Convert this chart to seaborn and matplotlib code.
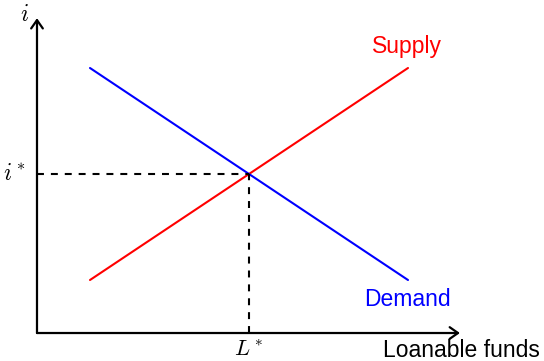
import matplotlib
matplotlib.use("Agg")
import matplotlib.pyplot as plt
import seaborn as sns
import pandas as pd

# Loanable funds market: straight-line supply and demand
supply_x = [1, 7]
supply_y = [1, 5]
demand_x = [1, 7]
demand_y = [5, 1]
eq_x, eq_y = 4, 3          # equilibrium L*, i*
x_end, y_end = 7.98, 5.94  # axis arrow tips

sns.set_theme(style="white")
plt.rcParams['font.family'] = ['Liberation Sans', 'DejaVu Sans']
plt.rcParams['mathtext.fontset'] = 'cm'
plt.rcParams['lines.scale_dashes'] = False
plt.rcParams['text.color'] = 'black'

fig = plt.figure(figsize=(5.44, 3.61), dpi=100)
ax = fig.add_axes([0, 0, 1, 1])
ax.set_xlim(-0.698, 9.566)
ax.set_ylim(-0.528, 6.283)
ax.set_axis_off()

supply = pd.DataFrame({'x': supply_x, 'y': supply_y})
demand = pd.DataFrame({'x': demand_x, 'y': demand_y})
sns.lineplot(data=supply, x='x', y='y', color='#ff0000', lw=1.5, ax=ax)
sns.lineplot(data=demand, x='x', y='y', color='#0000ff', lw=1.5, ax=ax)

# axes with arrow heads
arrow = dict(arrowstyle='->,head_length=0.5,head_width=0.35', color='black', lw=1.6,
             shrinkA=0, shrinkB=0)
ax.annotate('', xy=(x_end, 0), xytext=(0, 0), arrowprops=arrow)
ax.annotate('', xy=(0, y_end), xytext=(0, 0), arrowprops=arrow)

# dashed guides to the equilibrium
ax.plot([0, eq_x], [eq_y, eq_y], color='black', lw=1.5, dashes=(5, 5))
ax.plot([eq_x, eq_x], [0, eq_y], color='black', lw=1.5, dashes=(5, 5))

ax.text(-0.15, 6.0, r'$i$', fontsize=17, ha='right', va='center')
ax.text(-0.2, eq_y, r'$i^*$', fontsize=17, ha='right', va='center')
ax.text(eq_x, -0.44, r'$L^*$', fontsize=16, ha='center', va='baseline')
ax.text(9.49, -0.45, 'Loanable funds', fontsize=16.5, ha='right', va='baseline')
ax.text(6.98, 5.28, 'Supply', fontsize=16.5, color='#ff0000', ha='center', va='baseline')
ax.text(6.98, 0.51, 'Demand', fontsize=16.5, color='#0000ff', ha='center', va='baseline')

fig.savefig('out.png', dpi=100)
